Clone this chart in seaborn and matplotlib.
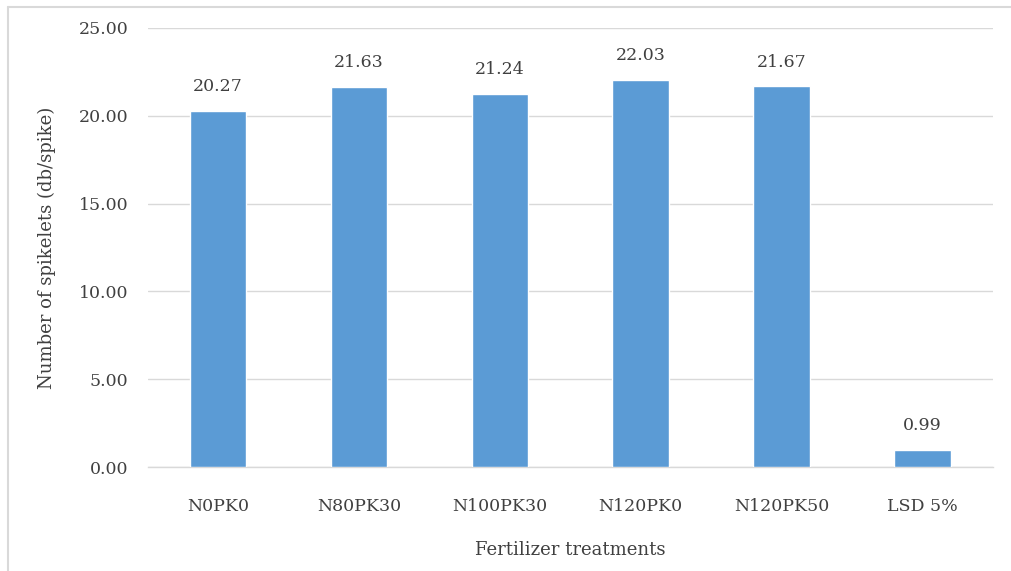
import matplotlib
matplotlib.use("Agg")
import matplotlib.pyplot as plt
from matplotlib.lines import Line2D
import seaborn as sns
import pandas as pd

treatments = ["N0PK0", "N80PK30", "N100PK30", "N120PK0", "N120PK50", "LSD 5%"]
spikelets = [20.27, 21.63, 21.24, 22.03, 21.67, 0.99]
y_ticks = [0, 5, 10, 15, 20, 25]

df = pd.DataFrame({"treatment": treatments, "spikelets": spikelets})

sns.set_theme(style="white")
plt.rcParams["font.family"] = ["DejaVu Serif", "Liberation Serif"]

text_color = "#404040"
grid_color = "#D9D9D9"
bar_color = "#5B9BD5"
fs = 12.5

fig = plt.figure(figsize=(10.11, 5.71), dpi=100)
ax = fig.add_axes([0.146, 0.182, 0.836, 0.769])

sns.barplot(data=df, x="treatment", y="spikelets", color=bar_color,
            width=0.4, saturation=1, ax=ax, zorder=3)

ax.set_ylim(0, 25)
ax.set_yticks(y_ticks)
ax.set_yticklabels([f"{v:.2f}" for v in y_ticks])
ax.yaxis.grid(True, color=grid_color, linewidth=1, zorder=0)
ax.set_axisbelow(True)

for side in ["top", "right", "left"]:
    ax.spines[side].set_visible(False)
ax.spines["bottom"].set_color(grid_color)
ax.spines["bottom"].set_linewidth(1)

ax.tick_params(axis="both", length=0, labelsize=fs, colors=text_color)
ax.tick_params(axis="y", pad=14)
ax.tick_params(axis="x", pad=22)

for i, v in enumerate(spikelets):
    ax.text(i, v + 0.9, f"{v:.2f}", ha="center", va="bottom",
            fontsize=fs, color=text_color)

ax.set_xlabel("Fertilizer treatments", fontsize=13, color=text_color, labelpad=19)
ax.set_ylabel("Number of spikelets (db/spike)", fontsize=13, color=text_color, labelpad=16)

# thin frame lines along the top and left edges of the figure
fig.add_artist(Line2D([0.008, 1.0], [0.988, 0.988], transform=fig.transFigure,
                      color=grid_color, linewidth=1.5))
fig.add_artist(Line2D([0.008, 0.008], [0.0, 0.988], transform=fig.transFigure,
                      color=grid_color, linewidth=1.5))

fig.savefig("out.png", dpi=100)
